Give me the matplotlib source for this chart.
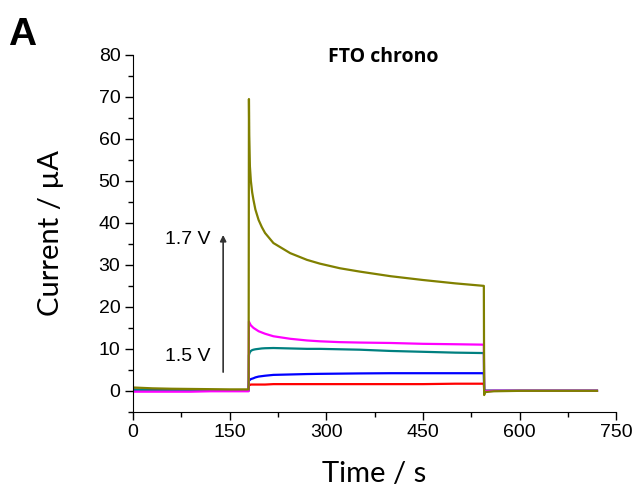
import matplotlib
matplotlib.use('Agg')
from matplotlib import pyplot as plt
from matplotlib.ticker import MultipleLocator

# time points (s) shared by all traces
time = [0, 30, 60, 90, 120, 150, 179.5,
        180, 180.5, 181.5, 183, 185, 187, 190, 195, 200, 205, 218, 244, 270, 290,
        321, 352, 400, 450, 500, 544.5,
        545, 546, 560, 600, 650, 700, 720]

i_red = [0.3, 0.2, 0.1, 0.1, 0.1, 0.1, 0.1,
         1.4, 1.4, 1.4, 1.5, 1.5, 1.5, 1.5, 1.5, 1.5, 1.5, 1.6, 1.6, 1.6, 1.6,
         1.6, 1.6, 1.6, 1.6, 1.7, 1.7,
         0.0, 0.0, 0.0, 0.0, 0.0, 0.0, 0.0]
i_blue = [0.2, 0.1, 0.1, 0.1, 0.1, 0.1, 0.1,
          2.4, 2.5, 2.6, 2.8, 2.9, 3.0, 3.2, 3.4, 3.5, 3.6, 3.8, 3.9, 4.0, 4.05,
          4.1, 4.15, 4.2, 4.2, 4.2, 4.2,
          0.0, 0.0, 0.0, 0.0, 0.0, 0.0, 0.0]
i_teal = [0.3, 0.1, 0.1, 0.1, 0.1, 0.1, 0.1,
          8.5, 8.8, 9.2, 9.5, 9.7, 9.8, 9.9, 10.0, 10.1, 10.15, 10.2, 10.1, 10.0,
          10.0, 9.9, 9.8, 9.5, 9.3, 9.1, 9.0,
          0.0, 0.0, 0.0, 0.0, 0.0, 0.0, 0.0]
i_magenta = [-0.2, -0.2, -0.2, -0.2, -0.1, -0.1, -0.1,
             16.5, 16.3, 16.0, 15.6, 15.3, 15.0, 14.7, 14.2, 13.9, 13.6, 13.0,
             12.4, 12.0, 11.8, 11.6, 11.5, 11.4, 11.2, 11.1, 11.0,
             0.0, -0.1, 0.0, 0.0, 0.0, 0.0, 0.0]
i_olive = [0.8, 0.6, 0.5, 0.45, 0.4, 0.35, 0.35,
           69.5, 61.0, 53.5, 50.0, 47.3, 45.5, 43.2, 40.7, 39.0, 37.6, 35.2,
           32.8, 31.2, 30.3, 29.2, 28.4, 27.3, 26.4, 25.6, 25.0,
           -1.0, -0.3, -0.1, 0.0, 0.0, 0.0, 0.0]

series = [(i_red, '#ff0000'), (i_blue, '#0000ff'), (i_teal, '#008080'),
          (i_magenta, '#ff00ff'), (i_olive, '#808000')]

fig = plt.figure(figsize=(6.36, 4.95), dpi=100)
ax = fig.add_axes([0.209, 0.168, 0.760, 0.721])

for cur, col in series:
    ax.plot(time, cur, color=col, lw=1.6)

ax.set_xlim(0, 750)
ax.set_ylim(-5, 80)
ax.xaxis.set_major_locator(MultipleLocator(150))
ax.xaxis.set_minor_locator(MultipleLocator(75))
ax.yaxis.set_major_locator(MultipleLocator(10))
ax.yaxis.set_minor_locator(MultipleLocator(5))
ax.spines['top'].set_visible(False)
ax.spines['right'].set_visible(False)
ax.tick_params(which='major', direction='out', length=6, width=1,
               labelsize=14, pad=3)
ax.tick_params(which='minor', direction='out', length=3.5, width=1)
for lab in ax.get_xticklabels() + ax.get_yticklabels():
    lab.set_family('Liberation Sans')

ax.set_xlabel('Time / s', fontsize=21, family='Lato', labelpad=14)
ax.set_ylabel('Current / µA', fontsize=21, family='Lato', labelpad=25)

ax.text(388, 79.5, 'FTO chrono', fontsize=14, fontweight='bold',
        family='Open Sans', ha='center', va='center')
ax.annotate('', xy=(140, 37.8), xytext=(140, 3.8),
            arrowprops=dict(arrowstyle='-|>', color='#333333', lw=1.2,
                            mutation_scale=9))
ax.text(120.5, 36, '1.7 V', fontsize=14, family='Liberation Sans',
        ha='right', va='center')
ax.text(120.5, 8.2, '1.5 V', fontsize=14, family='Liberation Sans',
        ha='right', va='center')

fig.text(0.012, 0.93, 'A', fontsize=28, fontweight='bold',
         family='Liberation Sans', ha='left', va='center')

fig.savefig('out.png', dpi=100)
